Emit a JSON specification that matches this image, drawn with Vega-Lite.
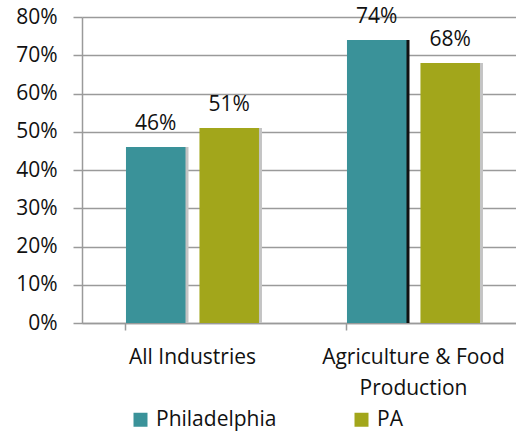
{
  "$schema": "https://vega.github.io/schema/vega-lite/v6.json",
  "width": 434,
  "height": 306,
  "autosize": {"type": "none"},
  "padding": {"left": 82, "top": 17, "right": 0, "bottom": 109},
  "background": "white",
  "config": {
    "view": {"stroke": null},
    "font": "Open Sans",
    "text": {"font": "Open Sans"}
  },
  "data": {
    "values": [
      {"category": "All Industries", "region": "Philadelphia", "value": 0.46},
      {"category": "All Industries", "region": "PA", "value": 0.51},
      {"category": "Agriculture & Food Production", "region": "Philadelphia", "value": 0.74},
      {"category": "Agriculture & Food Production", "region": "PA", "value": 0.68}
    ]
  },
  "encoding": {
    "x": {
      "field": "category",
      "type": "nominal",
      "sort": ["All Industries", "Agriculture & Food Production"],
      "scale": {"range": [0, 442], "paddingInner": 0.398, "paddingOuter": 0.199},
      "axis": {
        "title": null,
        "labelAngle": 0,
        "bandPosition": 0,
        "domainColor": "#9a9a9a",
        "domainWidth": 1.5,
        "tickColor": "#9a9a9a",
        "tickWidth": 1.5,
        "tickSize": 7,
        "labelFontSize": 21,
        "labelColor": "#111111",
        "labelFont": "Open Sans",
        "labelPadding": 16,
        "labelLineHeight": 31,
        "labelBaseline": "top",
        "labelLimit": 400,
        "labelExpr": "datum.value == 'Agriculture & Food Production' ? ['Agriculture & Food', 'Production'] : datum.label",
        "grid": false
      }
    },
    "y": {
      "field": "value",
      "type": "quantitative",
      "scale": {"domain": [0, 0.8], "nice": false},
      "axis": {
        "title": null,
        "format": ".0%",
        "values": [0, 0.1, 0.2, 0.3, 0.4, 0.5, 0.6, 0.7, 0.8],
        "grid": true,
        "gridColor": "#9a9a9a",
        "gridWidth": 1.5,
        "domainColor": "#9a9a9a",
        "domainWidth": 1.5,
        "tickColor": "#9a9a9a",
        "tickWidth": 1.5,
        "tickSize": 9,
        "labelFontSize": 21,
        "labelColor": "#111111",
        "labelFont": "Open Sans",
        "labelPadding": 16
      }
    }
  },
  "layer": [
    {
      "mark": {"type": "bar"},
      "encoding": {
        "xOffset": {
          "field": "region",
          "type": "nominal",
          "sort": ["Philadelphia", "PA"],
          "scale": {"range": [3, 136], "paddingInner": 0.19, "paddingOuter": 0}
        },
        "color": {
          "condition": {"test": "datum.region == 'Philadelphia' && datum.category == 'Agriculture & Food Production'", "value": "#111111"},
          "value": "#c4c4c4"
        }
      }
    },
    {
      "layer": [
        {
          "mark": {"type": "bar"},
          "encoding": {
            "color": {
              "field": "region",
              "type": "nominal",
              "sort": ["Philadelphia", "PA"],
              "scale": {"domain": ["Philadelphia", "PA"], "range": ["#3a9299", "#a2a61b"]},
              "legend": {
                "title": null,
                "orient": "none",
                "legendX": 48,
                "legendY": 392,
                "direction": "horizontal",
                "columns": 2,
                "padding": 0,
                "symbolType": "square",
                "symbolSize": 196,
                "symbolStrokeWidth": 0,
                "symbolOpacity": 1,
                "labelFontSize": 21,
                "labelFont": "Open Sans",
                "labelColor": "#111111",
                "labelOffset": 5,
                "columnPadding": 74
              }
            }
          }
        },
        {
          "mark": {"type": "text", "fontSize": 21, "font": "Open Sans", "color": "#111111", "baseline": "alphabetic", "dy": -17},
          "encoding": {
            "text": {"field": "value", "type": "quantitative", "format": ".0%"}
          }
        }
      ],
      "encoding": {
        "xOffset": {
          "field": "region",
          "type": "nominal",
          "sort": ["Philadelphia", "PA"],
          "scale": {"range": [0, 133], "paddingInner": 0.19, "paddingOuter": 0}
        }
      }
    }
  ],
  "resolve": {"scale": {"xOffset": "independent"}}
}
